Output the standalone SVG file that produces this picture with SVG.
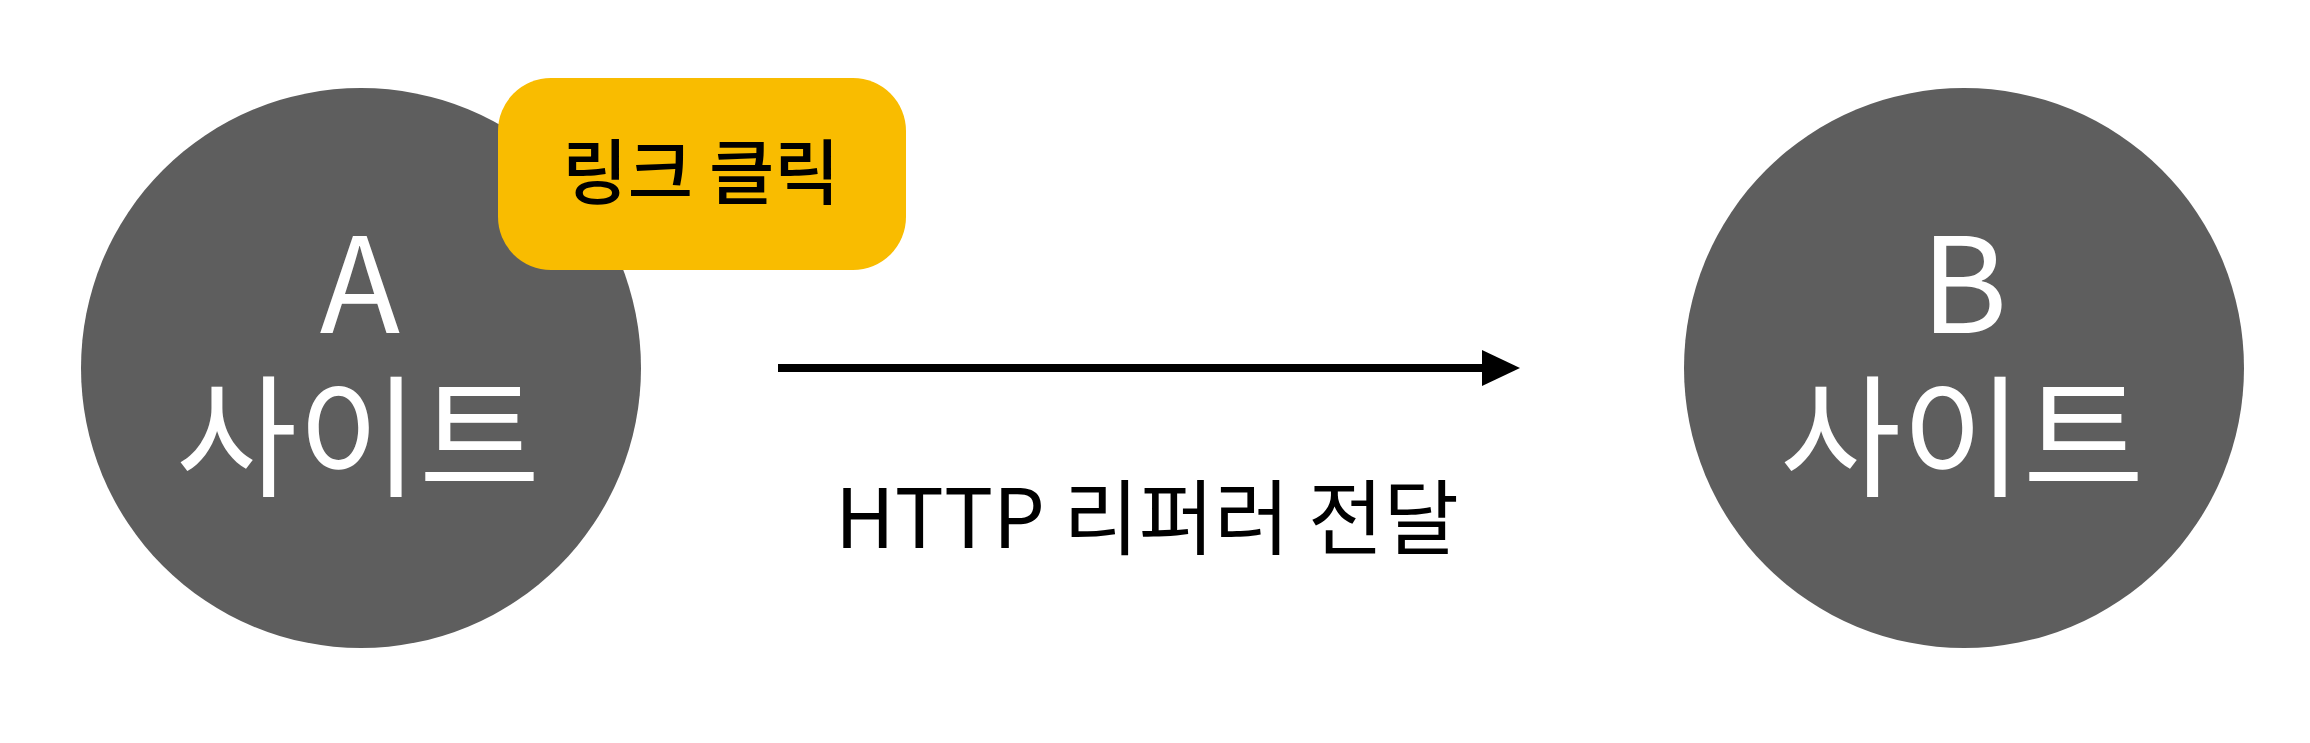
<svg xmlns="http://www.w3.org/2000/svg" width="2310" height="743" viewBox="0 0 2310 743">
<style>
.site{fill:#5e5e5e}
.st{font-family:"Noto Sans CJK KR","Noto Sans",sans-serif;fill:#ffffff;font-size:132px;text-anchor:middle}
.lbl{font-family:"Noto Sans CJK KR","Noto Sans",sans-serif;fill:#000000;text-anchor:middle}
</style>
<rect width="2310" height="743" fill="#ffffff"/>
<g id="nodeA">
<circle class="site" cx="361" cy="368" r="280"/>
<text class="st" x="360" y="333">A</text>
<text class="st" x="358" y="486">사이트</text>
</g>
<g id="nodeB">
<circle class="site" cx="1964" cy="368" r="280"/>
<text class="st" x="1964" y="333">B</text>
<text class="st" x="1962" y="486">사이트</text>
</g>
<g id="click">
<rect x="498" y="78" width="408" height="192" rx="53" ry="53" fill="#f9bc00"/>
<text class="lbl" x="701" y="198" font-size="71" font-weight="500">링크 클릭</text>
</g>
<g id="connectors">
<line x1="778" y1="368" x2="1486" y2="368" stroke="#000" stroke-width="8"/>
<polygon points="1482,350 1520,368 1482,386" fill="#000"/>
<text class="lbl" x="1147" y="548" font-size="82">HTTP 리퍼러 전달</text>
</g>
</svg>
